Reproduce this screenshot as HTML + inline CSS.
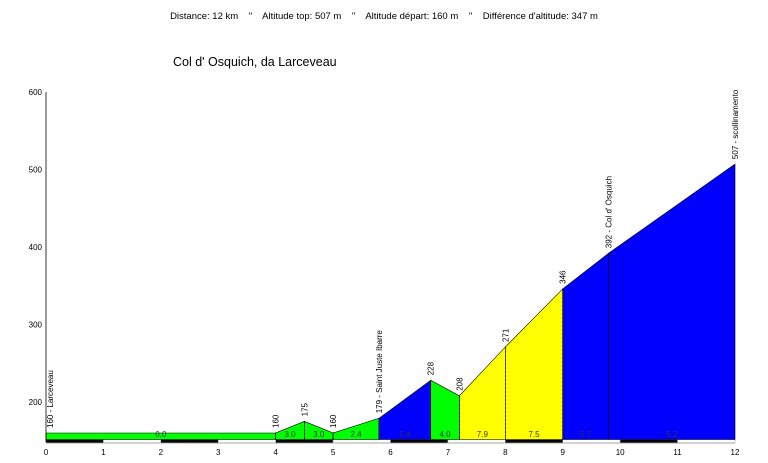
<!DOCTYPE html>
<html><head><meta charset="utf-8"><style>
body{margin:0;background:#fff;}
svg{display:block;font-family:"Liberation Sans",sans-serif;}
</style></head><body>
<svg id="c" width="768" height="463" viewBox="0 0 768 463">
<text x="384" y="19" font-size="9.5" text-anchor="middle" fill="#000" xml:space="preserve">Distance: 12 km    "    Altitude top: 507 m    "    Altitude départ: 160 m    "    Différence d'altitude: 347 m</text>
<text x="173" y="66" font-size="12.5" fill="#000">Col d' Osquich, da Larceveau</text>
<g id="plot"></g>
</svg>
<script>
const kms=[0,4,4.5,5,5.8,6.7,7.2,8,9,9.8,12];
const alts=[160,160,175,160,179,228,208,271,346,392,507];
const grades=["0.0","3.0","3.0","2.4","5.4","4.0","7.9","7.5","5.7","5.2"];
const segColors=["#00ff00","#00ff00","#00ff00","#00ff00","#0000ff","#00ff00","#ffff00","#ffff00","#0000ff","#0000ff"];
const pointLabels=["160 - Larceveau","160","175","160","179 - Saint Juste Ibarre","228","208","271","346","392 - Col d' Osquich","507 - scollinamento"];
const yTicks=[200,300,400,500,600];
const xTicks=[0,1,2,3,4,5,6,7,8,9,10,11,12];
const NS="http://www.w3.org/2000/svg";
const X=k=>46+k*(689/12);
const Y=a=>402-(a-200)*0.775;
const base=439.5;
const g=document.getElementById('plot');
function mk(t,a){const e=document.createElementNS(NS,t);for(const k in a)e.setAttribute(k,a[k]);g.appendChild(e);return e;}
// km strip
for(let i=0;i<12;i++){const r=mk('rect',{x:X(i),y:439.5,width:X(i+1)-X(i),height:3.5,fill:i%2?'#fff':'#000',stroke:'#999','stroke-width':0.5});

}
// segments
for(let i=0;i<kms.length-1;i++){
const p=mk('polygon',{points:`${X(kms[i])},${base} ${X(kms[i])},${Y(alts[i])} ${X(kms[i+1])},${Y(alts[i+1])} ${X(kms[i+1])},${base}`,fill:segColors[i],stroke:'#000','stroke-width':0.6});


const t=mk('text',{x:(X(kms[i])+X(kms[i+1]))/2,y:437,'font-size':8,'text-anchor':'middle',fill:'#333'});
t.textContent=grades[i];

}
// dashed verticals
for(let i=1;i<kms.length-1;i++){const l=mk('line',{x1:X(kms[i]),x2:X(kms[i]),y1:Y(alts[i]),y2:base,stroke:'#000','stroke-width':0.7,'stroke-dasharray':'2,2'});

}
// point labels
for(let i=0;i<kms.length;i++){const x=X(kms[i])+(i==0?7:3),y=Y(alts[i])-5;
const t=mk('text',{x:x,y:y,'font-size':8,fill:'#000',transform:`rotate(-90 ${x} ${y})`});
t.textContent=pointLabels[i];

}
// axes
const ya=mk('line',{x1:46,x2:46,y1:92,y2:442,stroke:'#000','stroke-width':0.8});


const xa=mk('line',{x1:46,x2:735,y1:443,y2:443,stroke:'#999','stroke-width':0.8});


for(const v of yTicks){const t=mk('text',{x:42,y:Y(v)+3,'font-size':8,'text-anchor':'end',fill:'#000'});t.textContent=v;

}
for(const v of xTicks){const t=mk('text',{x:X(v),y:455,'font-size':8,'text-anchor':'middle',fill:'#000'});t.textContent=v;

}
</script>
</body></html>
